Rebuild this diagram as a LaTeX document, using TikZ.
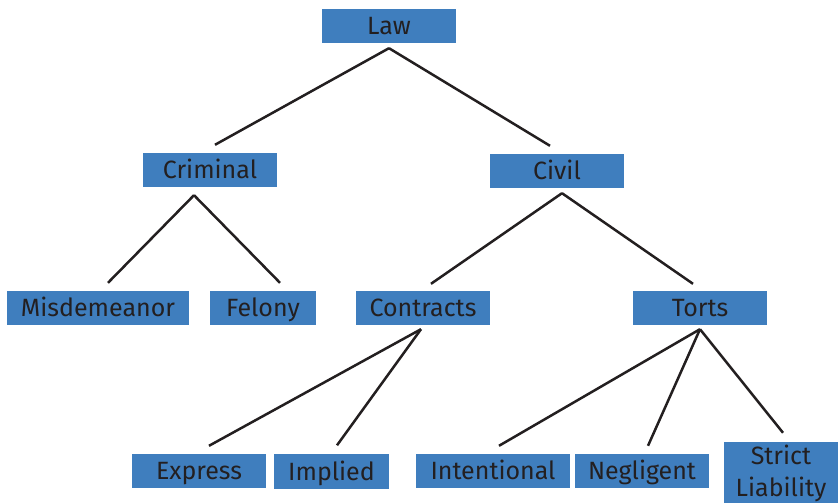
\documentclass[tikz,border=0pt]{standalone}
\usepackage{fontspec}
\setmainfont{Fira Sans}
\definecolor{boxblue}{HTML}{3F7EBE}
\definecolor{txt}{HTML}{231F20}
\begin{document}
\begin{tikzpicture}[x=1pt,y=-1pt,
  box/.style={fill=boxblue,draw=none,inner sep=0pt,minimum height=34pt,
    text=txt,font=\fontsize{25}{31}\selectfont,text height=17.2pt,text depth=0pt},
  conn/.style={draw=txt,line width=2.5pt}]
\useasboundingbox (0,0) rectangle (838,503);
\node[box,minimum width=134pt] (law) at (389,26) {Law};
\node[box,minimum width=134pt] (criminal) at (210,170) {Criminal};
\node[box,minimum width=134pt] (civil) at (557,171) {Civil};
\node[box,minimum width=182pt] (misd) at (98,308) {Misdemeanor};
\node[box,minimum width=106pt] (felony) at (263,308) {Felony};
\node[box,minimum width=134pt] (contracts) at (423,308) {Contracts};
\node[box,minimum width=134pt] (torts) at (700,308) {Torts};
\node[box,minimum width=134pt] (express) at (199,471) {Express};
\node[box,minimum width=115pt,minimum height=35pt] (implied) at (331.5,471.5) {Implied};
\node[box,minimum width=154pt] (intentional) at (493,471) {Intentional};
\node[box,minimum width=134pt] (negligent) at (642,471) {Negligent};
\node[fill=boxblue,inner sep=0pt,minimum width=114pt,minimum height=63pt,
  text=txt,font=\fontsize{25}{32}\selectfont,align=center] (strict) at (781,473) {Strict\\Liability};
% connectors
\draw[conn] ([yshift=-5pt]law.south) -- ([xshift=5pt,yshift=8pt]criminal.north);
\draw[conn] ([yshift=-5pt]law.south) -- ([xshift=-7pt,yshift=8pt]civil.north);
\draw[conn] ([xshift=-16pt,yshift=-8pt]criminal.south) -- ([xshift=10pt,yshift=8pt]misd.north);
\draw[conn] ([xshift=-16pt,yshift=-8pt]criminal.south) -- ([xshift=17pt,yshift=8pt]felony.north);
\draw[conn] ([xshift=5pt,yshift=-5pt]civil.south) -- ([xshift=8pt,yshift=7pt]contracts.north);
\draw[conn] ([xshift=5pt,yshift=-5pt]civil.south) -- ([xshift=-7pt,yshift=7pt]torts.north);
\draw[conn] ([xshift=-2pt,yshift=-4pt]contracts.south) -- ([xshift=10pt,yshift=8pt]express.north);
\draw[conn] ([xshift=-2pt,yshift=-4pt]contracts.south) -- ([xshift=5.5pt,yshift=8.5pt]implied.north);
\draw[conn] ([yshift=-4pt]torts.south) -- ([xshift=6pt,yshift=8pt]intentional.north);
\draw[conn] ([yshift=-4pt]torts.south) -- ([xshift=6pt,yshift=8pt]negligent.north);
\draw[conn] ([yshift=-4pt]torts.south) -- ([xshift=2pt,yshift=8.5pt]strict.north);
\end{tikzpicture}
\end{document}
